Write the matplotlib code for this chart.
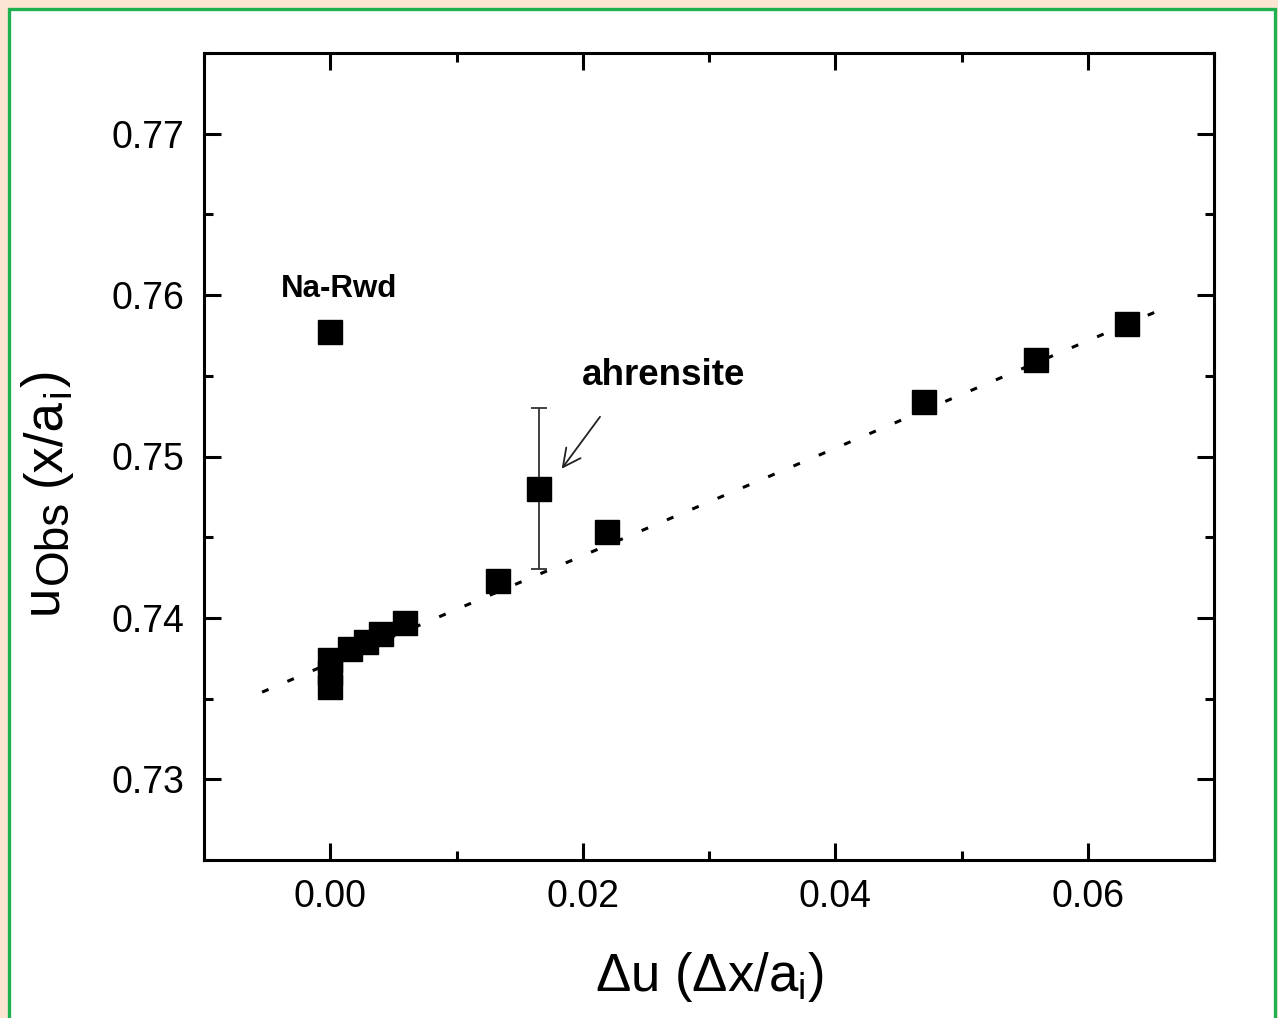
import numpy as np
import matplotlib
matplotlib.use("Agg")
import matplotlib.pyplot as plt
from matplotlib.patches import Rectangle
from matplotlib.transforms import IdentityTransform
from matplotlib.ticker import MultipleLocator, FormatStrFormatter

plt.rcParams["font.family"] = ["Liberation Sans", "DejaVu Sans"]
plt.rcParams["mathtext.fontset"] = "custom"
plt.rcParams["mathtext.rm"] = "Liberation Sans"
plt.rcParams["mathtext.it"] = "Liberation Sans"

# Observed u against the deviation from the ideal position
du = [0.0, 0.0, 0.0, 0.0016, 0.0028, 0.0040, 0.0059, 0.0133, 0.0219, 0.0470, 0.0559, 0.0631]
u_obs = [0.7374, 0.7366, 0.7357, 0.7381, 0.7385, 0.7390, 0.7397, 0.7423, 0.7453, 0.7534, 0.7560, 0.7582]

# Na-ringwoodite (outlier) and ahrensite with its error bar
na_rwd_du, na_rwd_u = 0.0, 0.7577
ahr_du, ahr_u, ahr_err = 0.01655, 0.7480, 0.0050

# Linear trend
fit_x = [-0.0054, 0.0655]
fit_y = [0.7354, 0.7590]

W, H = 1278, 1018
fig = plt.figure(figsize=(W / 100, H / 100), dpi=100)
fig.patch.set_facecolor("#fde5d3")
fig.patches.append(Rectangle((8.5 / W, -0.02), (1274.5 - 8.5) / W, 1.02 - 8.5 / H,
                             transform=fig.transFigure, facecolor="white",
                             edgecolor="#1fb04f", linewidth=2.4, zorder=-10))

ax = fig.add_axes([204 / W, 1 - 860 / H, 1010 / W, 807 / H])
ax.set_facecolor("none")

ax.plot(fit_x, fit_y, color="black", lw=2.2, linestyle=(0, (2.3, 6.7)), zorder=2)
ax.plot(du, u_obs, "ks", markersize=17, zorder=3)
ax.plot([na_rwd_du], [na_rwd_u], "ks", markersize=17, zorder=3)
ax.errorbar([ahr_du], [ahr_u], yerr=[ahr_err], fmt="ks", markersize=17,
            ecolor="#333333", elinewidth=1.3, capsize=6, capthick=1.3, zorder=3)

ax.text(0.0007, 0.7604, "Na-Rwd", fontsize=22.5, fontweight="bold", ha="center", va="center")
ax.text(0.02637, 0.7550, "ahrensite", fontsize=26.5, fontweight="bold", ha="center", va="center")
ax.annotate("", xy=(0.0182, 0.7491), xytext=(0.0215, 0.7526),
            arrowprops=dict(arrowstyle="->", lw=1.3, color="#222222", mutation_scale=32))

ax.set_xlim(-0.01, 0.07)
ax.set_ylim(0.725, 0.775)
ax.xaxis.set_major_locator(MultipleLocator(0.02))
ax.xaxis.set_minor_locator(MultipleLocator(0.01))
ax.yaxis.set_major_locator(MultipleLocator(0.01))
ax.yaxis.set_minor_locator(MultipleLocator(0.005))
ax.xaxis.set_major_formatter(FormatStrFormatter("%.2f"))
ax.yaxis.set_major_formatter(FormatStrFormatter("%.2f"))
ax.tick_params(which="both", direction="in", top=True, right=True, width=2.2, labelsize=27, pad=14)
ax.tick_params(which="major", length=12)
ax.tick_params(which="minor", length=6.5)
for s in ax.spines.values():
    s.set_linewidth(2.2)

ax.set_xlabel("Δu (Δx/a$_\\mathregular{i}$)", fontsize=38, labelpad=25)

# y label built piece by piece so the subscripts keep a larger size
renderer = fig.canvas.get_renderer()
pieces = [("u", 38, 56, 0), ("Obs", 33, 67, 1), ("(x/a", 38, 60, 14), ("i", 28, 69, 1), (")", 38, 60, 1)]
ypos = H - 614
for txt, size, base_x, gap in pieces:
    ypos += gap
    t = fig.text(base_x, ypos, txt, fontsize=size, rotation=90, rotation_mode="anchor",
                 ha="left", va="baseline", transform=IdentityTransform())
    ypos += t.get_window_extent(renderer).height

fig.savefig("out.png", dpi=100, facecolor=fig.get_facecolor())
